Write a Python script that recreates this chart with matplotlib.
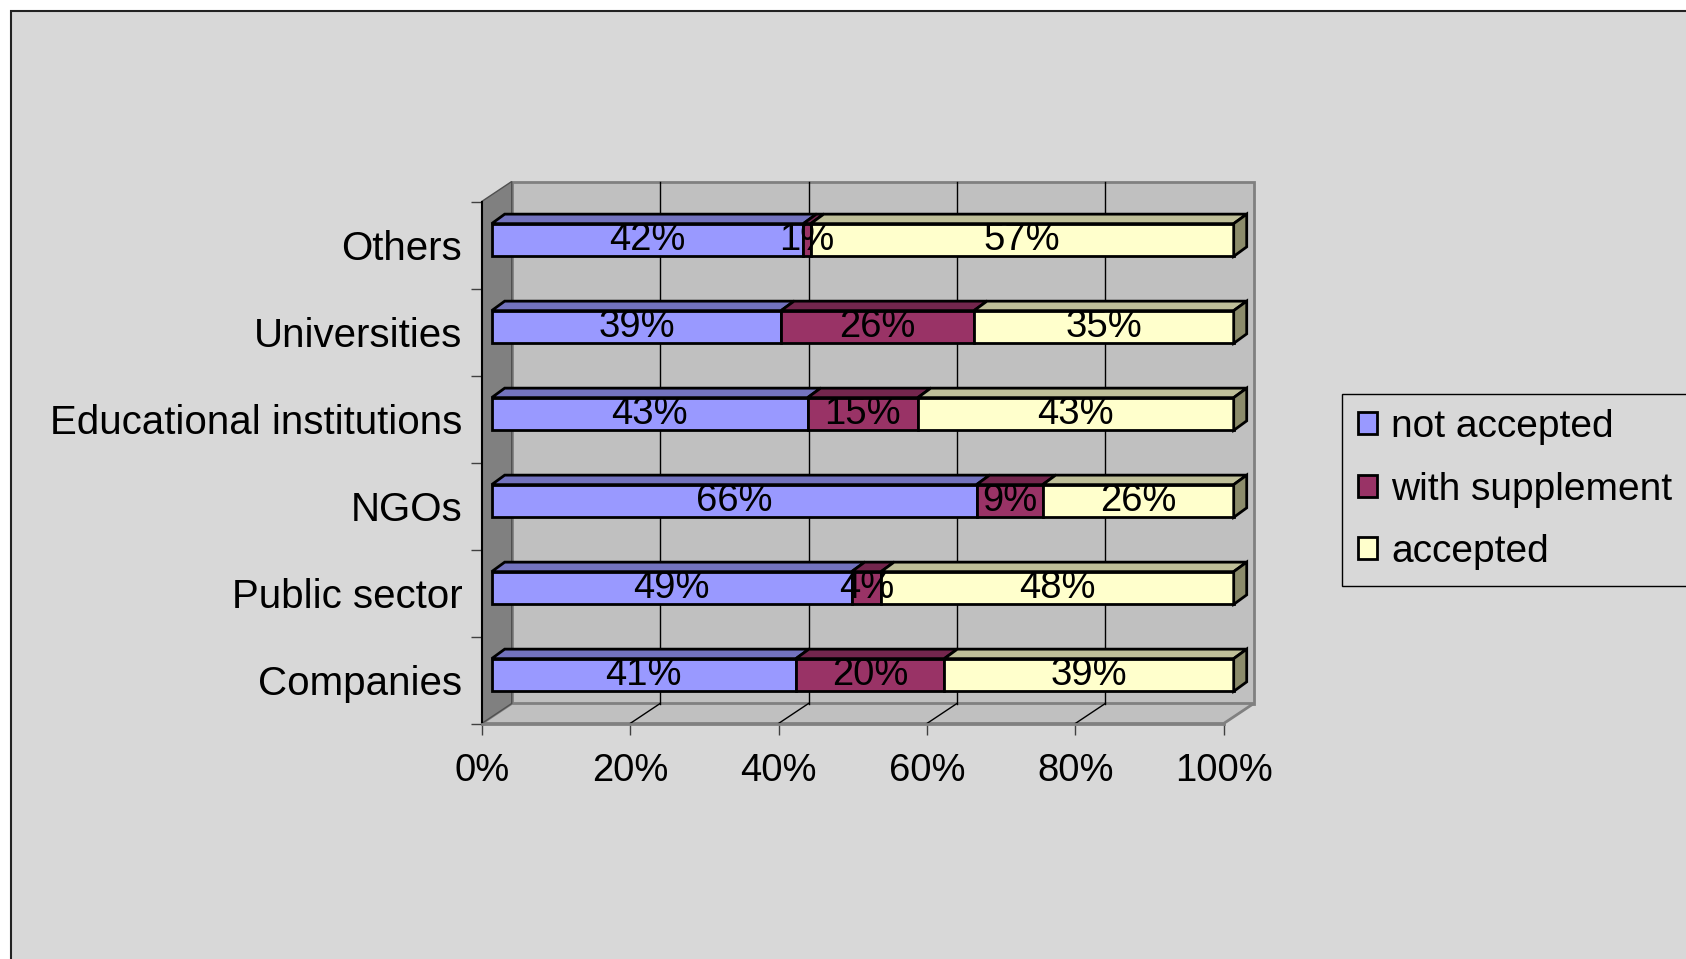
import matplotlib
matplotlib.use("Agg")
import matplotlib.pyplot as plt
from matplotlib.patches import Polygon, Rectangle, Patch

categories = ["Companies", "Public sector", "NGOs", "Educational institutions",
              "Universities", "Others"]
not_accepted = [41, 49, 66, 43, 39, 42]
with_supplement = [20, 4, 9, 15, 26, 1]
accepted = [39, 48, 26, 43, 35, 57]
series_names = ["not accepted", "with supplement", "accepted"]
x_ticks = [0, 20, 40, 60, 80, 100]

FRONT = ["#9999FF", "#993366", "#FFFFCC"]
TOP = ["#7373BF", "#73264D", "#BFBF99"]
END_FACE = "#8C8C6B"
BG = "#D8D8D8"
WALL = "#C0C0C0"
SIDE = "#808080"

W, H, DPI = 1686, 959, 100
# front plane of the fake 3d box, in pixels
AX_LEFT, AX_RIGHT, AX_TOP, AX_BOTTOM = 481.7, 1223.7, 201.5, 723.5
# depth offsets in pixels (right, up)
WALL_D = (30, 20)
BAR_FRONT_D = (10, 5)
BAR_BACK_D = (23, 14.5)
BAR_H = 0.376

plt.rcParams["font.family"] = ["Liberation Sans", "DejaVu Sans"]

fig = plt.figure(figsize=(W / DPI, H / DPI), dpi=DPI, facecolor="white")
fig.patches.append(Rectangle((10.75 / W, -0.05), 1.1, 1.05 - 10.75 / H,
                             transform=fig.transFigure, facecolor=BG,
                             edgecolor="#222222", lw=1.5, zorder=-1))

ax = fig.add_axes([AX_LEFT / W, 1 - AX_BOTTOM / H,
                   (AX_RIGHT - AX_LEFT) / W, (AX_BOTTOM - AX_TOP) / H])
n = len(categories)
ax.set_xlim(0, 100)
ax.set_ylim(-0.5, n - 0.5)
ax.patch.set_visible(False)

ux = 100 / (AX_RIGHT - AX_LEFT)
uy = n / (AX_BOTTOM - AX_TOP)


def shift(d):
    return d[0] * ux, d[1] * uy


# walls and floor
wx, wy = shift(WALL_D)
y0, y1 = -0.5, n - 0.5
ax.add_patch(Polygon([(wx, y0 + wy), (wx, y1 + wy), (100 + wx, y1 + wy), (100 + wx, y0 + wy)],
                     fc=WALL, ec=SIDE, lw=2, zorder=1, clip_on=False))
ax.add_patch(Polygon([(0, y0), (100, y0), (100 + wx, y0 + wy), (wx, y0 + wy)],
                     fc=WALL, ec=SIDE, lw=2, zorder=1, clip_on=False))
ax.add_patch(Polygon([(0, y0), (0, y1), (wx, y1 + wy), (wx, y0 + wy)],
                     fc=SIDE, ec="#505050", lw=1, zorder=1, clip_on=False))
for t in x_ticks[1:-1]:
    ax.plot([t + wx, t + wx], [y0 + wy, y1 + wy], color="black", lw=1, zorder=1.5, clip_on=False)
    ax.plot([t, t + wx], [y0, y0 + wy], color="black", lw=1, zorder=1.5, clip_on=False)

# stacked bars
fx, fy = shift(BAR_FRONT_D)
bx, by = shift(BAR_BACK_D)
rows = list(zip(not_accepted, with_supplement, accepted))
for i, row in enumerate(rows):
    total = sum(row)
    left = 0
    yc = i + fy
    top = yc + BAR_H / 2
    for k, v in enumerate(row):
        w = v / total * 100
        ax.barh(yc, w, left=left + fx, height=BAR_H, color=FRONT[k],
                edgecolor="black", lw=2, zorder=3, clip_on=False)
        ax.add_patch(Polygon([(left + fx, top), (left + w + fx, top),
                              (left + w + bx, i + by + BAR_H / 2), (left + bx, i + by + BAR_H / 2)],
                             fc=TOP[k], ec="black", lw=2, zorder=3, clip_on=False))
        ax.text(left + fx + w / 2, yc, f"{v}%", ha="center", va="center",
                fontsize=27.5, zorder=5, clip_on=False)
        left += w
    ax.add_patch(Polygon([(100 + fx, yc - BAR_H / 2), (100 + fx, top),
                          (100 + bx, i + by + BAR_H / 2), (100 + bx, i + by - BAR_H / 2)],
                         fc=END_FACE, ec="black", lw=2, zorder=3, clip_on=False))

# axes styling
for s in ["top", "right"]:
    ax.spines[s].set_visible(False)
ax.spines["left"].set_color("black")
ax.spines["left"].set_linewidth(1.5)
ax.spines["bottom"].set_color(SIDE)
ax.spines["bottom"].set_linewidth(2)

ax.set_xticks(x_ticks, labels=[f"{t}%" for t in x_ticks])
ax.tick_params(axis="x", length=8, width=1, color="#404040", labelsize=27.5, pad=13)
ax.set_yticks([k - 0.5 for k in range(n + 1)], labels=[""] * (n + 1))
ax.set_yticks(range(n), labels=categories, minor=True)
ax.tick_params(axis="y", which="major", length=8, width=1, color="#404040")
ax.tick_params(axis="y", which="minor", length=0, labelsize=29, pad=14)

handles = [Patch(facecolor=c, edgecolor="black", lw=2) for c in FRONT]
leg = fig.legend(handles, series_names, loc="upper left",
                 bbox_to_anchor=(1342 / W, 1 - 393.5 / H), fontsize=28,
                 frameon=True, fancybox=False, edgecolor="black", facecolor=BG,
                 framealpha=1, borderpad=0.4, borderaxespad=0, handlelength=0.5,
                 handleheight=0.5, handletextpad=0.36, labelspacing=0.68)
leg.get_frame().set_linewidth(1)

fig.savefig("out.png", dpi=DPI, facecolor="white")
